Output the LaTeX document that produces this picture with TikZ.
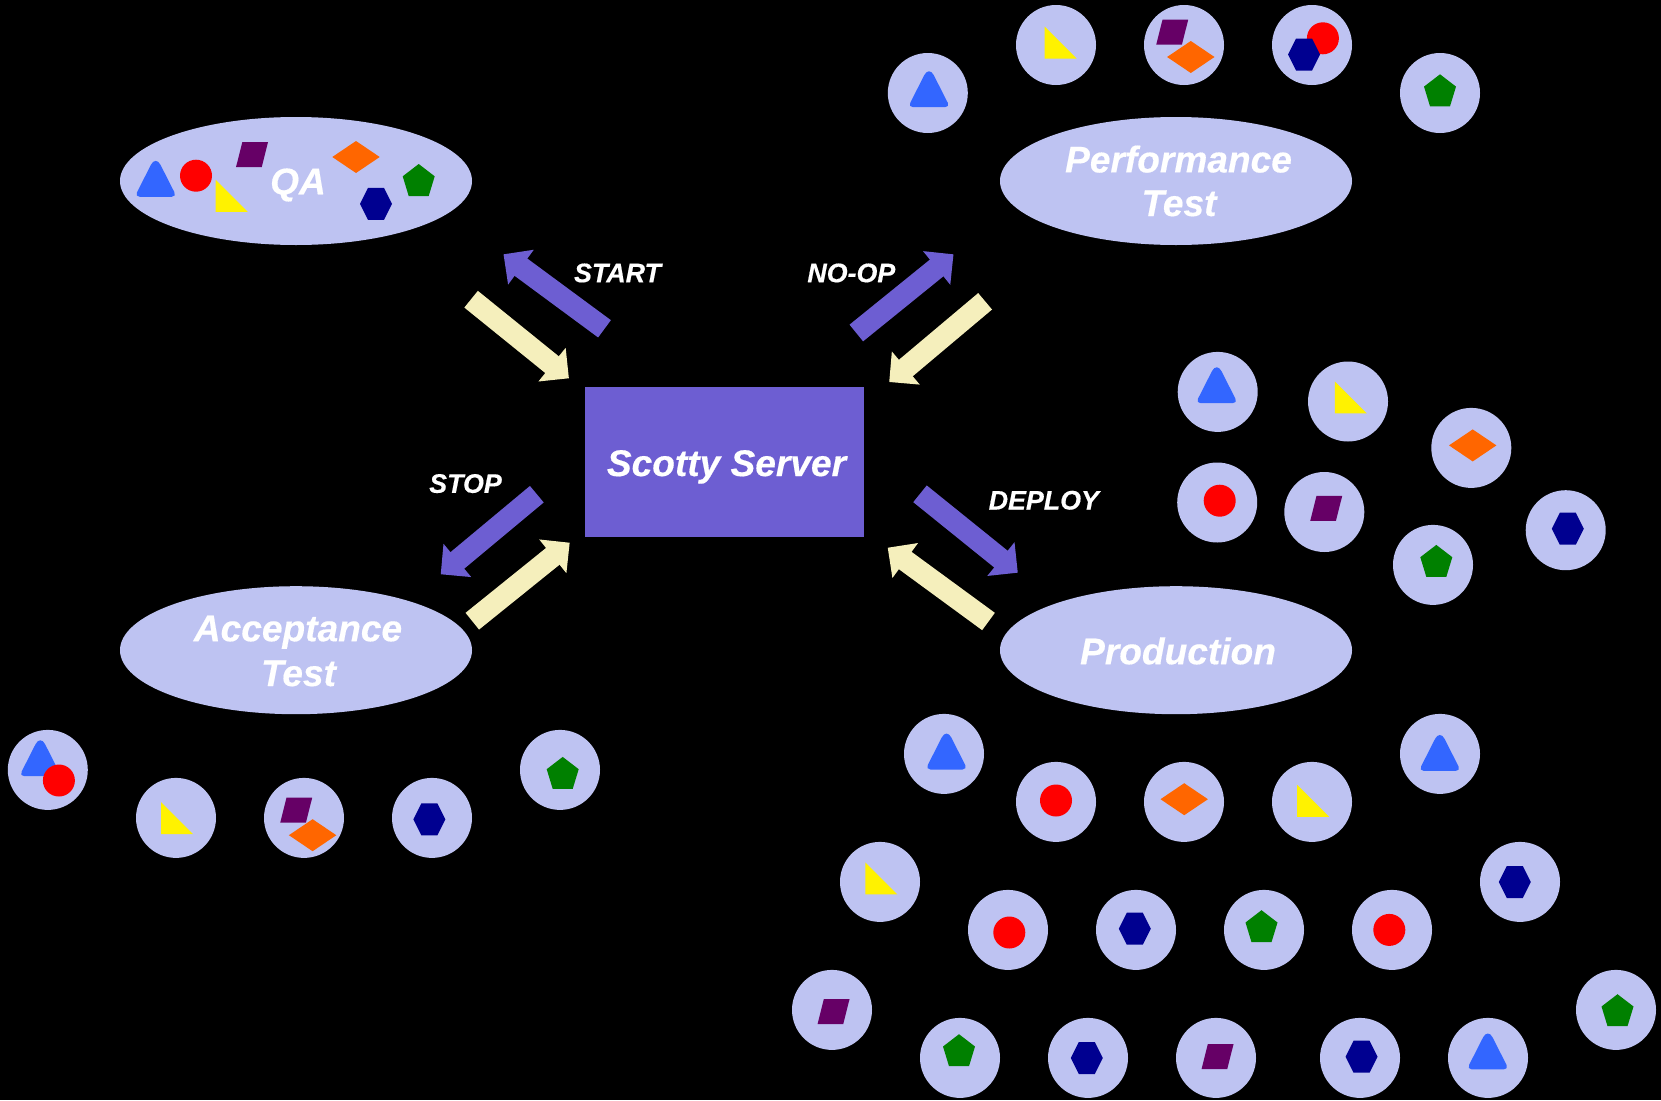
\documentclass[tikz,border=0pt]{standalone}
\usepackage{fontspec}
\setmainfont[BoldItalicFeatures={FakeBold=0.4}]{Liberation Sans}
\usetikzlibrary{arrows.meta,shapes.geometric}
\definecolor{lav}{HTML}{BEC3F2}
\definecolor{srv}{HTML}{6D5ED2}
\definecolor{crm}{HTML}{F5EFBC}
\definecolor{tblue}{HTML}{3366FF}
\definecolor{tpurp}{HTML}{660066}
\definecolor{torng}{HTML}{FF6600}
\definecolor{tgrn}{HTML}{008000}
\definecolor{tnavy}{HTML}{000090}
\tikzset{
  x=1pt,y=-1pt,
  token/.style={circle,fill=lav,minimum size=80pt,inner sep=0pt,outer sep=0pt},
  stage/.style={ellipse,fill=lav,minimum width=352pt,minimum height=128pt,inner sep=0pt,outer sep=0pt},
  biglabel/.style={text=white,font=\fontsize{37.1}{44}\selectfont\bfseries\itshape,inner sep=0pt,anchor=base,align=center},
  smalllabel/.style={text=white,font=\fontsize{26.8}{32}\selectfont\bfseries\itshape,inner sep=0pt,anchor=base},
  blockarrow/.style={line width=21.5pt,-{Triangle[length=21.7pt,width=42pt]}},
  outarrow/.style={blockarrow,draw=srv},
  inarrow/.style={blockarrow,draw=crm},
  pics/tria/.style={code={\fill[tblue] (0,17.5) [rounded corners=5pt] -- (21,17.5) [rounded corners=10.5pt] -- (0,-23.9) [rounded corners=5pt] -- (-21,17.5) -- cycle;}},
  pics/rtri/.style={code={\fill[yellow] (-16,-16)--(-16,16)--(16,16)--cycle;}},
  pics/rdot/.style={code={\fill[red] (0,0) circle[radius=16pt];}},
  pics/para/.style={code={\fill[tpurp] (-9.7,-12.5)--(16,-12.5)--(9.7,12.5)--(-16,12.5)--cycle;}},
  pics/diam/.style={code={\fill[torng] (-23.7,0)--(0,-16)--(23.7,0)--(0,16)--cycle;}},
  pics/pent/.style={code={\fill[tgrn] (0,-16)--(16,-3.7)--(10,16)--(-10,16)--(-16,-3.7)--cycle;}},
  pics/hexa/.style={code={\fill[tnavy] (-16,0)--(-8,-16)--(8,-16)--(16,0)--(8,16)--(-8,16)--cycle;}},
}
\begin{document}
\begin{tikzpicture}
\useasboundingbox (0,0) rectangle (1661,1100);
\fill[black] (0,0) rectangle (1661,1100);

% stages
\node[stage] (qa) at (296,181) {};
\node[stage] (perf) at (1176,181) {};
\node[stage] (acc) at (296,650.2) {};
\node[stage] (prod) at (1176,650.2) {};
\node[rectangle,fill=srv,minimum width=279pt,minimum height=150pt,inner sep=0pt,outer sep=0pt] (server) at (724.5,462.2) {};

% QA contents
\pic at (155.7,179.3) {tria};
\pic at (196,175.7) {rdot};
\pic at (231.7,195.8) {rtri};
\pic at (252,154.7) {para};
\pic at (356,157) {diam};
\pic at (418.7,180) {pent};
\pic at (376,203.8) {hexa};

% text
\node[biglabel] (qat) at (298,194.3) {QA};
\node[biglabel] (perft) at (1178.5,172.4) {Performance};
\node[biglabel] (perft2) at (1179,216) {Test};
\node[biglabel] (acct) at (298,641.2) {Acceptance};
\node[biglabel] (acct2) at (298.5,686) {Test};
\node[biglabel] (prodt) at (1178,664.2) {Production};
\node[biglabel] (servt) at (726.5,476) {Scotty Server};
\node[smalllabel] (l1) at (617.5,282.2) {START};
\node[smalllabel] (l2) at (851.3,282.2) {NO-OP};
\node[smalllabel] (l3) at (465.5,492.8) {STOP};
\node[smalllabel] (l4) at (1043.8,509.5) {DEPLOY};

% arrows
\coordinate (a1) at (604.5,328.8); \coordinate (a1e) at (503.5,254.3);
\coordinate (b1) at (471.1,299.2); \coordinate (b1e) at (568.9,378.3);
\coordinate (a2) at (856.3,333);   \coordinate (a2e) at (953.5,254.3);
\coordinate (b2) at (985.1,301.3); \coordinate (b2e) at (889.2,382);
\coordinate (a3) at (536.8,494.2); \coordinate (a3e) at (440.7,574.3);
\coordinate (b3) at (472.3,621.2); \coordinate (b3e) at (569.7,542.7);
\coordinate (a4) at (920,493.8);   \coordinate (a4e) at (1017.8,572.7);
\coordinate (b4) at (988.5,621.5); \coordinate (b4e) at (887.7,547.7);
\draw[outarrow] (a1) -- (a1e);
\draw[inarrow] (b1) -- (b1e);
\draw[outarrow] (a2) -- (a2e);
\draw[inarrow] (b2) -- (b2e);
\draw[outarrow] (a3) -- (a3e);
\draw[inarrow] (b3) -- (b3e);
\draw[outarrow] (a4) -- (a4e);
\draw[inarrow] (b4) -- (b4e);

% upper tokens
\foreach \n/\cx/\cy/\s/\sx/\sy in {
  p1/927.8/93/tria/929/89.7,
  p2/1056/45/rtri/1060.7/42.7,
  p5/1440/93/pent/1440/90.3%
}{
  \node[token] (\n) at (\cx,\cy) {};
  \pic at (\sx,\sy) {\s};
}
\node[token] (p3) at (1184,45) {};
\pic at (1172.2,32.2) {para};
\pic at (1190.8,57) {diam};
\node[token] (p4) at (1312,45) {};
\pic at (1322.9,38.3) {rdot};
\pic at (1304,54.5) {hexa};

% lower tokens
\begin{scope}[yshift=0.8pt]
\foreach \n/\cx/\cy/\s/\sx/\sy in {
  t2/176/818.7/rtri/177/819,
  t4/432/818.7/hexa/429.4/820.2,
  t5/560/770.7/pent/562.7/773.7,
  r1/1217.7/392.7/tria/1216.7/386.5,
  r2/1348/402.3/rtri/1350.8/398.2,
  r3/1471.3/448.7/diam/1472.7/446.2,
  r4/1217.2/503.3/rdot/1219.7/501.5,
  r5/1324.3/512.8/para/1326.2/509.2,
  r6/1433/565.7/pent/1436.3/561.7,
  r7/1565.7/531/hexa/1567.8/529.5,
  a1t/944/754.7/tria/946.5/752.8,
  a2t/1056/802.7/rdot/1056/801.3,
  a3t/1184/802.7/diam/1184.2/800,
  a4t/880/882.7/rtri/881.3/879.2,
  a5t/1008/930.7/rdot/1009.3/933.3,
  a6t/1136/930.7/hexa/1134.8/929.5,
  a7t/832/1010.7/para/833.5/1012.5,
  a8t/960/1058.7/pent/959/1051,
  a9t/1088/1058.7/hexa/1086.8/1058.8,
  a10t/1216/1058.7/para/1217.5/1057.5,
  b1t/1440/754.7/tria/1439.8/754.2,
  b2t/1312/802.7/rtri/1313.2/801.7,
  b3t/1520/882.7/hexa/1514.8/882.8,
  b4t/1264/930.7/pent/1261.5/927,
  b5t/1392/930.7/rdot/1389.3/930.7,
  b6t/1616/1010.7/pent/1617.5/1011,
  b7t/1360/1058.7/hexa/1361.5/1057.5,
  b8t/1488/1058.7/tria/1487.8/1052.7%
}{
  \node[token] (\n) at (\cx,\cy) {};
  \pic at (\sx,\sy) {\s};
}
\node[token] (t1) at (47.8,770.7) {};
\pic at (40.3,759.5) {tria};
\pic at (58.9,781.3) {rdot};
\node[token] (t3) at (304,818.7) {};
\pic at (296.2,811) {para};
\pic at (312.6,836) {diam};
\end{scope}
\end{tikzpicture}
\end{document}
